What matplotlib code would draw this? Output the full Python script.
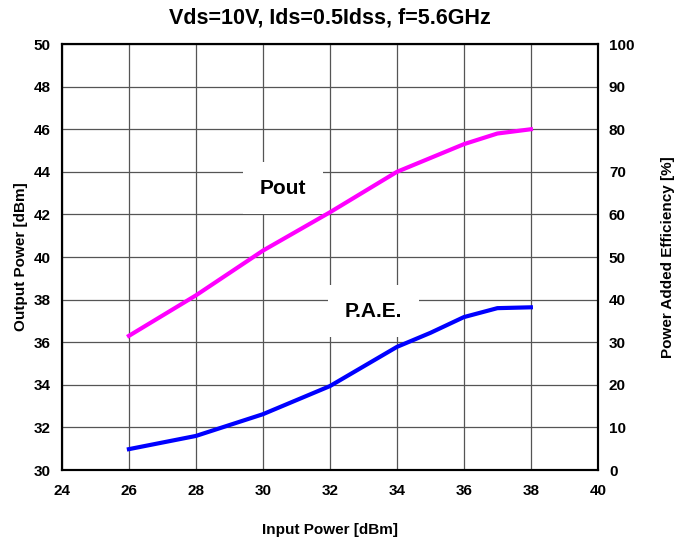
import matplotlib.pyplot as plt

plt.rcParams['font.family'] = ['Liberation Sans', 'DejaVu Sans']
plt.rcParams['font.weight'] = 'bold'

pin = [26, 28, 30, 32, 34, 36, 37, 38]
pout = [36.3, 38.2, 40.3, 42.1, 44.0, 45.3, 45.8, 46.0]
pae_x = [26, 28, 30, 32, 34, 35, 36, 37, 38]
pae = [4.9, 8.0, 13.1, 19.7, 28.9, 32.2, 35.9, 38.0, 38.2]

fig = plt.figure(figsize=(6.88, 5.44), dpi=100)
ax = fig.add_axes([0.090, 0.136, 0.779, 0.783])
ax2 = ax.twinx()

ax.plot(pin, pout, color='#ff00ff', lw=3.0, zorder=3)
ax2.plot(pae_x, pae, color='#0000ff', lw=3.0, zorder=3)

ax.set_xlim(24, 40)
ax.set_ylim(30, 50)
ax2.set_ylim(0, 100)
ax.set_xticks(range(24, 41, 2))
ax.set_yticks(range(30, 51, 2))
ax2.set_yticks(range(0, 101, 10))
ax.grid(True, color='#555555', lw=0.9)
ax.tick_params(length=0, labelsize=11, pad=10)
ax.tick_params(axis='y', pad=8)
ax2.tick_params(length=0, labelsize=11, pad=8)
for a in (ax, ax2):
    for s in a.spines.values():
        s.set_linewidth(1.5)

ax.set_xlabel('Input Power [dBm]', fontsize=11, fontweight='bold', labelpad=18)
ax.set_ylabel('Output Power [dBm]', fontsize=11, fontweight='bold')
ax2.set_ylabel('Power Added Efficiency [%]', fontsize=11, fontweight='bold', labelpad=19)
ax.set_title('Vds=10V, Ids=0.5Idss, f=5.6GHz', fontsize=15.5, fontweight='bold', pad=15)

ax2.text(30.6, 66.2, 'Pout', ha='center', va='center', fontsize=15, fontweight='bold',
         bbox=dict(facecolor='white', edgecolor='none', pad=12), zorder=4)
ax2.text(33.3, 37.3, 'P.A.E.', ha='center', va='center', fontsize=15, fontweight='bold',
         bbox=dict(facecolor='white', edgecolor='none', pad=12), zorder=1)

plt.savefig('out.png')
